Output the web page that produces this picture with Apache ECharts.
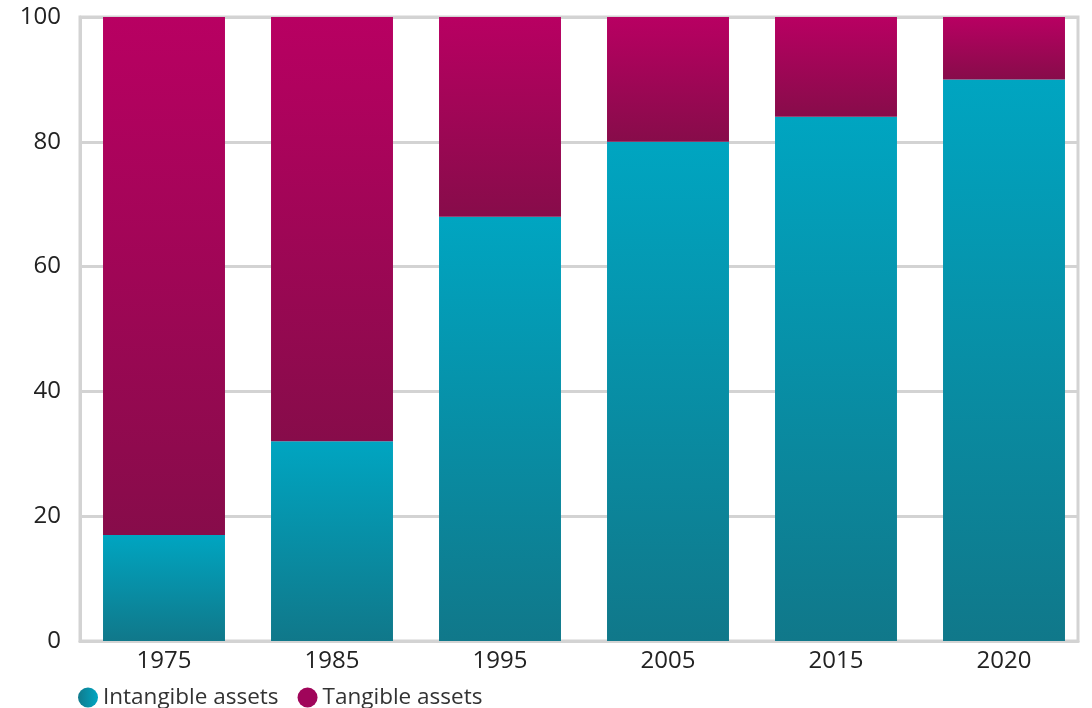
<!DOCTYPE html>
<html><head><meta charset="utf-8">
<script src="https://cdn.jsdelivr.net/npm/echarts@6/dist/echarts.min.js"></script>
<style>html,body{margin:0;padding:0;background:#fff}#c{width:1092px;height:708px}</style>
</head><body><div id="c"></div>
<script>
const categories = ['1975','1985','1995','2005','2015','2020'];
const intangible = [17, 32, 68, 80, 84, 90];
const tangible = [83, 68, 32, 20, 16, 10];
const yTicks = [0, 20, 40, 60, 80, 100];

const grad = (top, bottom) => new echarts.graphic.LinearGradient(0, 0, 0, 1, [
  {offset: 0, color: top}, {offset: 1, color: bottom}
]);
const font = '"Open Sans", "Noto Sans", sans-serif';
const gridColor = '#d3d3d3';
const chart = echarts.init(document.getElementById('c'));
chart.setOption({
  animation: false,
  grid: [
    {left: 80, right: 14, top: 17, bottom: 67, show: true, borderColor: gridColor, borderWidth: 3},
    {left: 80, right: 4, top: 17, bottom: 67}
  ],
  legend: {
    left: 73, top: 681, itemWidth: 20, itemHeight: 20, itemGap: 19, icon: 'circle',
    textStyle: {fontFamily: font, fontSize: 22.5, color: '#333', padding: [0,0,0,0]},
    data: [
      {name: 'Intangible assets', itemStyle: {color: new echarts.graphic.LinearGradient(0,0,1,0,[{offset:0,color:'#117a8c'},{offset:1,color:'#00a6c2'}])}},
      {name: 'Tangible assets', itemStyle: {color: '#a0055a'}}
    ]
  },
  xAxis: [
    {gridIndex: 0, type: 'category', data: categories,
      axisLine: {lineStyle: {color: gridColor, width: 3}},
      axisTick: {show: false}, axisLabel: {show: false}},
    {gridIndex: 1, type: 'category', data: categories,
      axisLine: {show: false}, axisTick: {show: false},
      axisLabel: {fontFamily: font, fontSize: 24, color: '#222', margin: 8}}
  ],
  yAxis: [
    {gridIndex: 0, type: 'value', min: 0, max: 100, interval: 20,
      axisLine: {show: true, lineStyle: {color: gridColor, width: 3}},
      axisTick: {show: false},
      splitLine: {lineStyle: {color: gridColor, width: 3}},
      axisLabel: {fontFamily: font, fontSize: 24, color: '#222', margin: 19,
        formatter: v => yTicks.includes(v) ? String(v) : ''}},
    {gridIndex: 1, type: 'value', min: 0, max: 100, interval: 20,
      axisLine: {show: false}, axisTick: {show: false}, splitLine: {show: false}, axisLabel: {show: false}}
  ],
  series: [
    {name: 'Intangible assets', type: 'bar', stack: 'a', xAxisIndex: 1, yAxisIndex: 1, barWidth: '72.6%', data: intangible,
      itemStyle: {color: grad('#00a5c1', '#10788a')}},
    {name: 'Tangible assets', type: 'bar', stack: 'a', xAxisIndex: 1, yAxisIndex: 1, data: tangible,
      itemStyle: {color: grad('#b80062', '#870c4a')}}
  ]
});
</script></body></html>
